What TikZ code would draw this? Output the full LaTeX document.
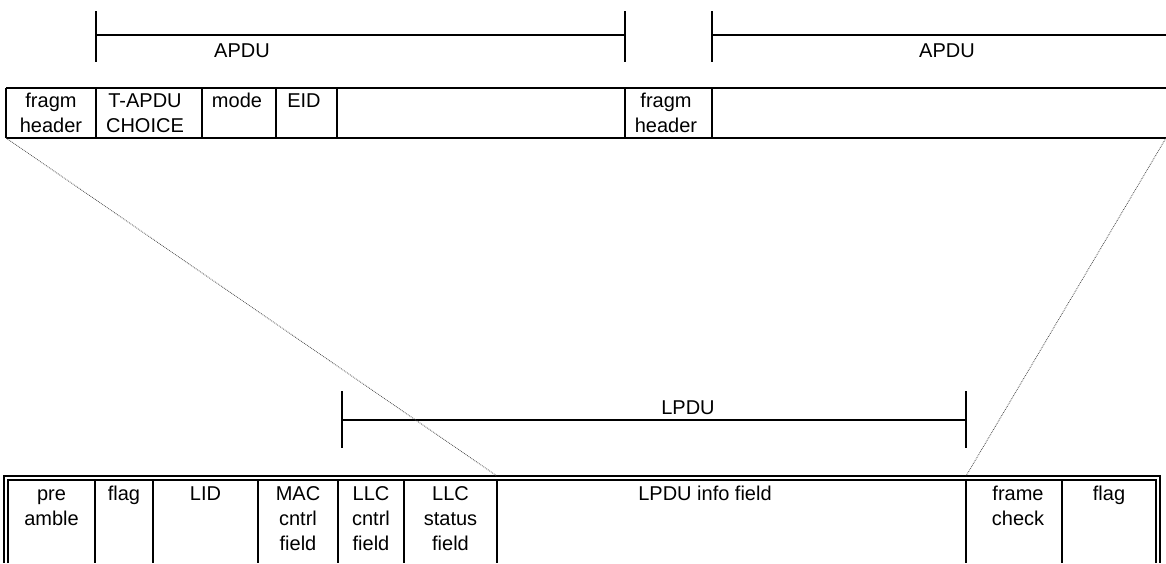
\documentclass[tikz,border=0pt]{standalone}
\usepackage{fontspec}
\setmainfont{Liberation Sans}
\begin{document}
\begin{tikzpicture}[x=1pt,y=-1pt,
  bar/.style={line width=1.6pt},
  frameline/.style={line width=1.4pt},
  celltext/.style={font=\fontsize{20}{25}\selectfont, inner sep=0pt, align=center, anchor=north},
  brlabel/.style={font=\fontsize{20}{25}\selectfont, inner sep=0pt, anchor=base},
  zoomline/.style={line width=0.8pt, densely dotted, black!70}]
\useasboundingbox (0,0) rectangle (1166,563);

% ---- top APDU brackets
\draw[bar] (96,11) -- (96,62);
\draw[bar] (625,11) -- (625,62);
\draw[bar] (712,11) -- (712,62);
\draw[bar] (96,35) -- (625,35);
\draw[bar] (712,35) -- (1166,35);
\node[brlabel] (apdu1) at (242,57) {APDU};
\node[brlabel] (apdu2) at (947,57) {APDU};

% ---- top fragment row
\draw[bar] (6,88) -- (1166,88);
\draw[bar] (6,138) -- (1166,138);
\foreach \x in {6,96,202,276,337,625,712} \draw[bar] (\x,88) -- (\x,138);
\node[celltext] (fh1) at (51,89.5) {\strut fragm\\header};
\node[celltext] (tapdu) at (145,89.5) {\strut T-APDU\\CHOICE};
\node[celltext] (mode) at (237,89.5) {\strut mode};
\node[celltext] (eid) at (304,89.5) {\strut EID};
\node[celltext] (fh2) at (666,89.5) {\strut fragm\\header};

\coordinate (rowbl) at (6,138);
\coordinate (rowbr) at (1166,138);

% ---- LPDU bracket
\draw[bar] (342,391) -- (342,448);
\draw[bar] (966,391) -- (966,448);
\draw[bar] (342,420) -- (966,420);
\node[brlabel] (lpdu) at (688,414) {LPDU};

% ---- bottom frame (double border)
\draw[frameline] (4,563) -- (4,476) -- (1160,476) -- (1160,563);
\draw[frameline] (8,563) -- (8,480) -- (1156,480) -- (1156,563);
\foreach \x in {95,153,258,338,404,497,966,1062} \draw[frameline] (\x,480) -- (\x,563);
\coordinate (infotl) at (497,476);
\coordinate (checktl) at (966,476);

\node[celltext] (pre) at (51.5,482.5) {\strut pre\\amble};
\node[celltext] (flag1) at (124,482.5) {\strut flag};
\node[celltext] (lid) at (205.5,482.5) {\strut LID};
\node[celltext] (mac) at (298,482.5) {\strut MAC\\cntrl\\field};
\node[celltext] (llcc) at (371,482.5) {\strut LLC\\cntrl\\field};
\node[celltext] (llcs) at (450.5,482.5) {\strut LLC\\status\\field};
\node[celltext] (info) at (705,482.5) {\strut LPDU info field};
\node[celltext] (check) at (1018,482.5) {\strut frame\\check};
\node[celltext] (flag2) at (1109,482.5) {\strut flag};

% ---- zoom connectors
\draw[zoomline] (rowbl) -- (infotl);
\draw[zoomline] (rowbr) -- (checktl);
\end{tikzpicture}
\end{document}
